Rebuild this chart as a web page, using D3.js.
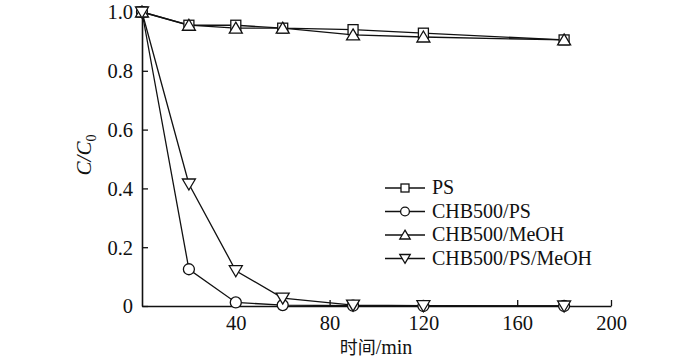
<!DOCTYPE html>
<html>
<head>
<meta charset="utf-8">
<script src="https://cdn.jsdelivr.net/npm/d3@7"></script>
<style>
body { margin: 0; background: #fff; }
svg text { font-family: 'Liberation Serif', 'DejaVu Serif', serif; fill: #111; }
</style>
</head>
<body>
<div id="vis"></div>
<script>
var times = [0, 20, 40, 60, 90, 120, 180];
var seriesNames = ['PS', 'CHB500/PS', 'CHB500/MeOH', 'CHB500/PS/MeOH'];
var psValues = [1.0, 0.955, 0.955, 0.945, 0.94, 0.928, 0.905];
var chbPsValues = [1.0, 0.125, 0.012, 0.003, 0.001, 0.0, 0.0];
var chbMeohValues = [1.0, 0.955, 0.945, 0.945, 0.922, 0.915, 0.905];
var chbPsMeohValues = [1.0, 0.415, 0.12, 0.027, 0.003, 0.001, 0.0];
var xTicks = [40, 80, 120, 160, 200];
var yTicks = [0, 0.2, 0.4, 0.6, 0.8, 1.0];

var width = 700, height = 361;
var margin = {left: 142, top: 12, right: 89, bottom: 55};
var serif = "'Liberation Serif', 'DejaVu Serif', serif";

var svg = d3.select('#vis').append('svg')
    .attr('width', width)
    .attr('height', height);

var x_scale = d3.scaleLinear()
    .domain([0, 200])
    .range([margin.left, width - margin.right]);

var y_scale = d3.scaleLinear()
    .domain([0, 1.0])
    .range([height - margin.bottom, margin.top]);

// axes, ticks pointing inwards
var xAxis = svg.append('g')
    .attr('transform', 'translate(0,' + y_scale(0) + ')')
    .call(d3.axisBottom(x_scale).tickValues(xTicks).tickSizeInner(-6).tickSizeOuter(0).tickPadding(9));
var yAxis = svg.append('g')
    .attr('transform', 'translate(' + x_scale(0) + ',0)')
    .call(d3.axisLeft(y_scale).tickValues(yTicks).tickSizeInner(-6).tickSizeOuter(0).tickPadding(9)
        .tickFormat(function(d){ return d === 0 ? '0' : d3.format('.1f')(d); }));

[xAxis, yAxis].forEach(function(g){
    g.attr('font-family', serif).attr('font-size', 20.5);
    g.select('.domain').attr('stroke', '#111').attr('stroke-width', 1.6);
    g.selectAll('.tick line').attr('stroke', '#111').attr('stroke-width', 1.3);
    g.selectAll('.tick text').attr('fill', '#111');
});
yAxis.selectAll('.tick text').attr('dy', '0.34em');

svg.append('text')
    .attr('x', 376)
    .attr('y', 354)
    .attr('text-anchor', 'middle')
    .attr('font-size', 20)
    .html('<tspan font-family="Noto Sans CJK SC" font-size="18">时间</tspan>/min');

svg.append('text')
    .attr('transform', 'translate(91,155) rotate(-90)')
    .attr('text-anchor', 'middle')
    .attr('font-size', 21)
    .attr('font-style', 'italic')
    .html('C/C<tspan dy="5" font-size="14" font-style="normal">0</tspan>');

var series = [
    {name: seriesNames[0], values: psValues, shape: 'square'},
    {name: seriesNames[1], values: chbPsValues, shape: 'circle'},
    {name: seriesNames[2], values: chbMeohValues, shape: 'up'},
    {name: seriesNames[3], values: chbPsMeohValues, shape: 'down'}
];

function drawMarker(g, shape, cx, cy, k)
{
    if(shape === 'square')
        g.append('rect').attr('x', cx - 5 * k).attr('y', cy - 5 * k).attr('width', 10 * k).attr('height', 10 * k);
    else if(shape === 'circle')
        g.append('circle').attr('cx', cx).attr('cy', cy).attr('r', 5.5 * k);
    else if(shape === 'up')
        g.append('path').attr('d', 'M' + cx + ',' + (cy - 6 * k) + 'L' + (cx + 6.5 * k) + ',' + (cy + 5 * k) + 'L' + (cx - 6.5 * k) + ',' + (cy + 5 * k) + 'Z');
    else
        g.append('path').attr('d', 'M' + cx + ',' + (cy + 6 * k) + 'L' + (cx + 6.5 * k) + ',' + (cy - 5 * k) + 'L' + (cx - 6.5 * k) + ',' + (cy - 5 * k) + 'Z');
}

var line = d3.line()
    .x(function(d){ return x_scale(d.t); })
    .y(function(d){ return y_scale(d.v); });

series.forEach(function(s){
    var pts = times.map(function(t, i){ return {t: t, v: s.values[i]}; });
    svg.append('path')
        .datum(pts)
        .attr('d', line)
        .attr('fill', 'none')
        .attr('stroke', '#111')
        .attr('stroke-width', 1.3);
});

series.forEach(function(s){
    var g = svg.append('g').attr('fill', '#fff').attr('stroke', '#111').attr('stroke-width', 1.3);
    times.forEach(function(t, i){
        drawMarker(g, s.shape, x_scale(t), y_scale(s.values[i]), 1);
    });
});

// legend
var legend = svg.append('g');
series.forEach(function(s, i){
    var yy = 188 + i * 23.5;
    legend.append('line')
        .attr('x1', 385).attr('x2', 425)
        .attr('y1', yy).attr('y2', yy)
        .attr('stroke', '#111').attr('stroke-width', 1.3);
    var g = legend.append('g').attr('fill', '#fff').attr('stroke', '#111').attr('stroke-width', 1.3);
    drawMarker(g, s.shape, 405, yy, 0.8);
    legend.append('text')
        .attr('x', 432)
        .attr('y', yy + 6)
        .attr('font-size', 20)
        .text(s.name);
});
</script>
</body>
</html>
